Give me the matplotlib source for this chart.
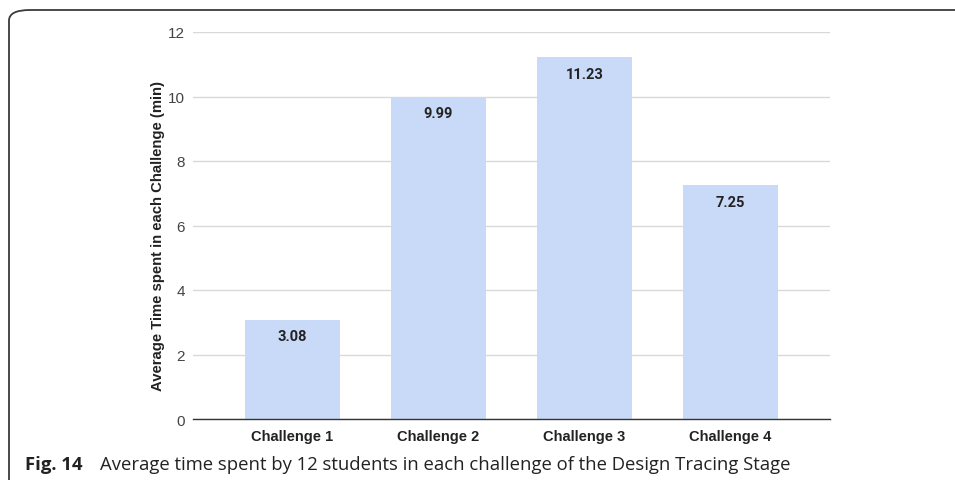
import matplotlib
matplotlib.use("Agg")
import matplotlib.pyplot as plt
from matplotlib.patches import FancyBboxPatch

# Data
challenges = ["Challenge 1", "Challenge 2", "Challenge 3", "Challenge 4"]
avg_minutes = [3.08, 9.99, 11.23, 7.25]
y_ticks = [0, 2, 4, 6, 8, 10, 12]

W, H = 955, 481
fig = plt.figure(figsize=(W / 100, H / 100), dpi=100)
fig.patch.set_facecolor("white")

# Panel frame with rounded top-left corner running off the page
frame = FancyBboxPatch((9 / W, -0.2), 1.2, (H - 11) / H + 0.2,
                       boxstyle="round,pad=0,rounding_size=0.022",
                       transform=fig.transFigure, fill=False,
                       edgecolor="#3a3a3a", linewidth=1.3, zorder=0)
fig.patches.append(frame)

ax = fig.add_axes([193 / W, 1 - 420 / H, (830 - 193) / W, (420 - 33) / H])
ax.set_facecolor("white")

x = list(range(len(challenges)))
bars = ax.bar(x, avg_minutes, width=0.65, color="#c9daf8", edgecolor="none", zorder=2)

for xi, v in zip(x, avg_minutes):
    ax.text(xi, v - 0.3, f"{v:.2f}", ha="center", va="top",
            fontsize=10.5, fontweight="bold", family="Roboto", color="#222222", zorder=3)

ax.set_xlim(-0.68, 3.68)
ax.set_ylim(0, 12)
ax.set_yticks(y_ticks)
ax.set_yticklabels([str(t) for t in y_ticks], family="Liberation Sans",
                   fontsize=11, color="#444444")
ax.set_xticks(x)
ax.set_xticklabels(challenges, family="Liberation Sans", fontsize=10.5,
                   fontweight="bold", color="#222222")
ax.tick_params(axis="y", length=0, pad=6)
ax.tick_params(axis="x", length=0, pad=7)

ax.grid(axis="y", color="#d9d9d9", linewidth=1.0, zorder=1)
for side in ["top", "right", "left"]:
    ax.spines[side].set_visible(False)
ax.spines["bottom"].set_color("#333333")
ax.spines["bottom"].set_linewidth(1.0)
ax.spines["bottom"].set_zorder(4)

ax.set_ylabel("Average Time spent in each Challenge (min)", family="Liberation Sans",
              fontsize=10.7, fontweight="bold", color="#222222")
ax.yaxis.set_label_coords((158 - 193) / (830 - 193), (420 - 236) / (420 - 33))
ax.yaxis.label.set_va("center")

# Caption
fig.text(25 / W, 1 - 465 / H, "Fig. 14", family="Open Sans", fontweight="bold",
         fontsize=13.3, color="#222222", va="center", ha="left")
fig.text(100 / W, 1 - 465 / H,
         "Average time spent by 12 students in each challenge of the Design Tracing Stage",
         family="Open Sans", fontsize=13.3, color="#222222", va="center", ha="left")

fig.savefig("out.png", dpi=100, facecolor="white")
